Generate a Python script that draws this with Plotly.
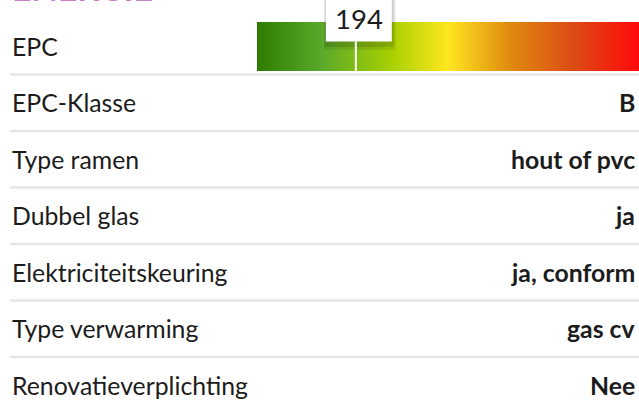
import numpy as np
import plotly.graph_objects as go

# ---- data ----
title_text = "ENERGIE"
row_labels = ["EPC-Klasse", "Type ramen", "Dubbel glas", "Elektriciteitskeuring",
              "Type verwarming", "Renovatieverplichting"]
row_values = ["B", "hout of pvc", "ja", "ja, conform", "gas cv", "Nee"]
epc_label = "EPC"
epc_value = 194
epc_scale = [0, 750]
gradient_stops = [0.0, 0.17, 0.35, 0.5, 0.66, 0.83, 1.0]
gradient_colors = ["#2f7d00", "#5ba92b", "#a6d000", "#ffe620", "#e08c10", "#dc4a14", "#ff0a0a"]

W, H = 639, 401
FONT = "Lato, 'Open Sans', sans-serif"
TXT = "#1c1c1c"
FS = 24.8

fig = go.Figure()

# gradient bar as heatmap on the EPC scale axis
edges = np.linspace(epc_scale[0], epc_scale[1], 383)
mids = (edges[:-1] + edges[1:]) / 2
fig.add_trace(go.Heatmap(
    x=edges, y=[22, 71], z=[mids], xaxis="x2", yaxis="y",
    colorscale=[[s, c] for s, c in zip(gradient_stops, gradient_colors)],
    zmin=epc_scale[0], zmax=epc_scale[1], showscale=False, hoverinfo="skip",
))

shapes = []
annotations = []

# title (cut off at top)
annotations.append(dict(x=10, y=3, xref="x", yref="y", text="<b>" + title_text + "</b>",
                        showarrow=False, xanchor="left", yanchor="bottom", yshift=-7,
                        font=dict(family=FONT, size=34, color="#c77fca")))

# EPC row label
annotations.append(dict(x=10, y=46, xref="x", yref="y", text=epc_label, showarrow=False,
                        xanchor="left", yanchor="middle",
                        font=dict(family=FONT, size=FS, color=TXT)))

# separators
row_h = 56.5
first_sep = 74.5
for i in range(len(row_labels)):
    y = first_sep + i * row_h
    shapes.append(dict(type="line", xref="x", yref="y", x0=10, x1=W, y0=y, y1=y,
                       line=dict(color="#e6e6e6", width=2.5)))

for i, (lab, val) in enumerate(zip(row_labels, row_values)):
    yc = first_sep + row_h * (i + 0.5)
    annotations.append(dict(x=10, y=yc, xref="x", yref="y", text=lab, showarrow=False,
                            xanchor="left", yanchor="middle",
                            font=dict(family=FONT, size=FS, color=TXT)))
    annotations.append(dict(x=637, y=yc, xref="x", yref="y", text="<b>" + val + "</b>",
                            showarrow=False, xanchor="right", yanchor="middle",
                            font=dict(family=FONT, size=FS, color=TXT)))

# marker: shadow, white label box, line
shapes.append(dict(type="rect", xref="x2", yref="y", xsizemode="pixel", xanchor=epc_value,
                   x0=-32, x1=40, y0=-10, y1=50, fillcolor="rgba(0,0,0,0.08)", line_width=0))
shapes.append(dict(type="rect", xref="x2", yref="y", xsizemode="pixel", xanchor=epc_value,
                   x0=-31, x1=38, y0=-10, y1=47, fillcolor="rgba(0,0,0,0.12)", line_width=0))
shapes.append(dict(type="rect", xref="x2", yref="y", xsizemode="pixel", xanchor=epc_value,
                   x0=-30, x1=36, y0=-10, y1=41.5, fillcolor="white", line_width=0))
shapes.append(dict(type="line", xref="x2", yref="y", x0=epc_value, x1=epc_value, y0=41.5, y1=71,
                   line=dict(color="white", width=2)))
annotations.append(dict(x=epc_value, y=18, xref="x2", yref="y", xshift=3, text=str(epc_value),
                        showarrow=False, xanchor="center", yanchor="middle",
                        font=dict(family=FONT, size=27.5, color=TXT)))

fig.update_layout(
    width=W, height=H, margin=dict(l=0, r=0, t=0, b=0),
    paper_bgcolor="white", plot_bgcolor="rgba(0,0,0,0)", showlegend=False,
    xaxis=dict(range=[0, W], visible=False, domain=[0, 1], fixedrange=True),
    xaxis2=dict(range=epc_scale, visible=False, domain=[257 / W, 1], anchor="y", fixedrange=True),
    yaxis=dict(range=[H, 0], visible=False, domain=[0, 1], fixedrange=True),
    shapes=shapes, annotations=annotations,
)

fig.write_html("out.html", config={"displayModeBar": False},
               post_script="document.body.style.margin='0px';document.body.style.overflow='hidden';")
